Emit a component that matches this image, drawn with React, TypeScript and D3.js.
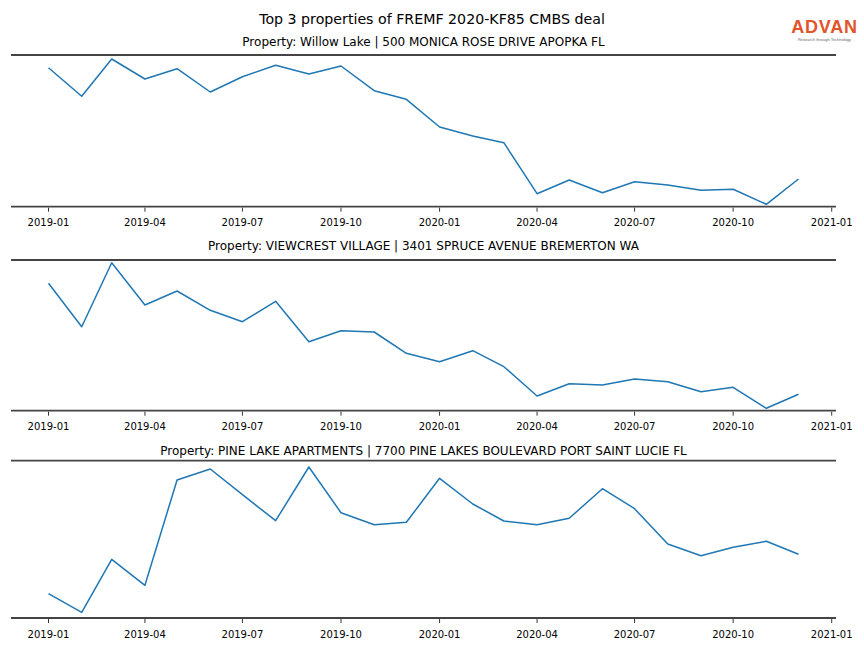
import React from "react";
import * as d3 from "d3";

const months: string[] = [
  "2019-01","2019-02","2019-03","2019-04","2019-05","2019-06","2019-07","2019-08","2019-09","2019-10","2019-11","2019-12",
  "2020-01","2020-02","2020-03","2020-04","2020-05","2020-06","2020-07","2020-08","2020-09","2020-10","2020-11","2020-12",
];

const titles: string[] = [
  "Property: Willow Lake | 500 MONICA ROSE DRIVE APOPKA FL",
  "Property: VIEWCREST VILLAGE | 3401 SPRUCE AVENUE BREMERTON WA",
  "Property: PINE LAKE APARTMENTS | 7700 PINE LAKES BOULEVARD PORT SAINT LUCIE FL",
];

const willowLake: number[] = [139, 110.4, 147.7, 127.7, 138, 114.7, 130, 141.4, 132.7, 140.7, 116, 107.4,
  79.7, 70.7, 64, 13, 26.7, 14, 25, 21.7, 16.4, 17.4, 2.4, 27.7];
const viewcrest: number[] = [127.4, 84, 148, 105.7, 119.7, 100.4, 89, 109.4, 69, 80, 78.7, 57.4,
  49, 60, 44, 14.7, 27, 25.7, 31.7, 29, 19, 23.4, 2.4, 16.4];
const pineLake: number[] = [24.3, 5.7, 58.7, 32.7, 138, 149, 123.3, 97.3, 151, 105.3, 93.3, 95.7,
  139.7, 114, 97, 93.3, 99.7, 129.3, 109.3, 74, 62.3, 70.7, 76.7, 63.7];

const series: number[][] = [willowLake, viewcrest, pineLake];
const yMax: number[] = [151.7, 150.7, 157.3];

const tickLabels: string[] = ["2019-01","2019-04","2019-07","2019-10","2020-01","2020-04","2020-07","2020-10","2021-01"];

const W = 864, H = 648;
const panels = [
  { top: 55, bottom: 206.7, titleY: 46 },
  { top: 260, bottom: 410.7, titleY: 250 },
  { top: 460.7, bottom: 618, titleY: 454.5 },
];
const X0 = 11, X1 = 836;

const parse = d3.timeParse("%Y-%m");
const dates = months.map((m) => parse(m) as Date);
const DAY = 86400000;
const x = d3
  .scaleTime()
  .domain([new Date(dates[0].getTime() - 35 * DAY), new Date(dates[dates.length - 1].getTime() + 35 * DAY)])
  .range([X0, X1]);

const font = "DejaVu Sans, sans-serif";

export default function App() {
  return (
    <svg width={W} height={H} style={{ position: "absolute", left: 0, top: 0, background: "#fff" }} fontFamily={font}>
      <rect width={W} height={H} fill="#fff" />
      <text x={432} y={24} textAnchor="middle" fontSize={14.2} fill="#000">
        Top 3 properties of FREMF 2020-KF85 CMBS deal
      </text>
      <g>
        <text x={824.5} y={33} textAnchor="middle" fontSize={18} fontWeight="bold" fill="#e2542a" fontFamily="Liberation Sans, Arial, sans-serif" letterSpacing={0.8}>
          ADVAN
        </text>
        <text x={824.5} y={41} textAnchor="middle" fontSize={4} fill="#666" fontFamily="Liberation Sans, Arial, sans-serif">
          Research through Technology
        </text>
      </g>
      {panels.map((p, i) => {
        const y = d3.scaleLinear().domain([0, yMax[i]]).range([p.bottom, p.top]);
        const line = d3
          .line<number>()
          .x((_, j) => x(dates[j]))
          .y((v) => y(v));
        return (
          <g key={i}>
            <text x={(X0 + X1) / 2} y={p.titleY} textAnchor="middle" fontSize={12} fill="#000">
              {titles[i]}
            </text>
            <path d={line(series[i]) || ""} fill="none" stroke="#1f77b4" strokeWidth={1.5} strokeLinejoin="round" />
            <line x1={X0} x2={X1} y1={p.top} y2={p.top} stroke="#444" strokeWidth={1.8} />
            <line x1={X0} x2={X1} y1={p.bottom} y2={p.bottom} stroke="#444" strokeWidth={1.8} />
            {tickLabels.map((t) => {
              const tx = x(parse(t) as Date);
              return (
                <g key={t}>
                  <line x1={tx} x2={tx} y1={p.bottom + 1} y2={p.bottom + 5} stroke="#000" strokeWidth={0.8} />
                  <text x={tx} y={p.bottom + 19.5} textAnchor="middle" fontSize={10} fill="#000">
                    {t}
                  </text>
                </g>
              );
            })}
          </g>
        );
      })}
    </svg>
  );
}
